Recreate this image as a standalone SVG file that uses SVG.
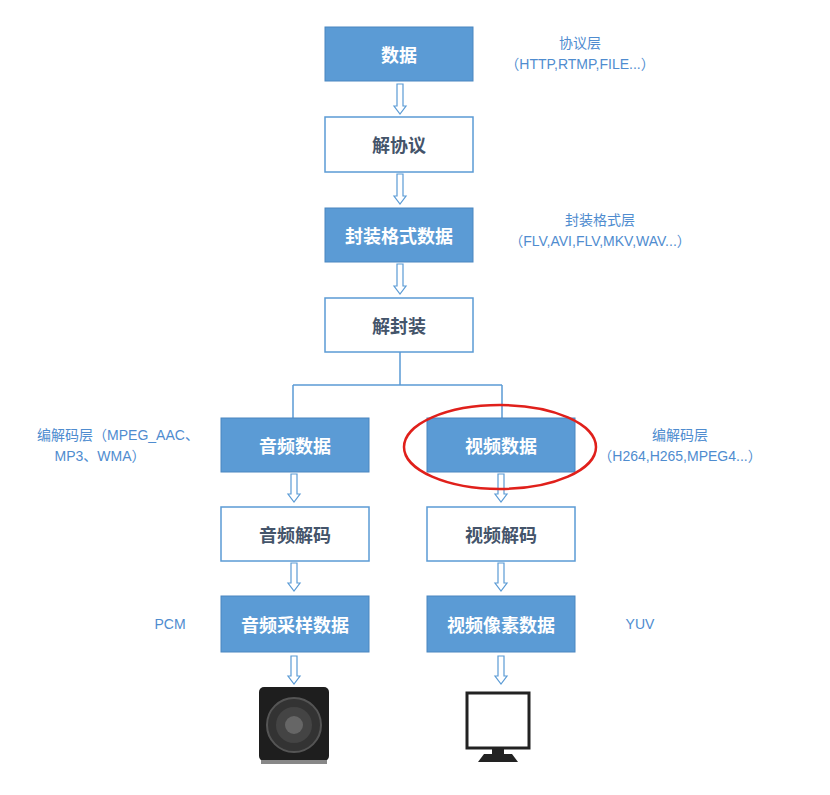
<svg xmlns="http://www.w3.org/2000/svg" width="830" height="795" viewBox="0 0 830 795">
<defs>
<style>
.f{fill:#5b9bd5;stroke:#4a86c0;stroke-width:1}
.w{fill:#fff;stroke:#5b9bd5;stroke-width:1.5}
.tf{font-family:"Noto Sans CJK SC",sans-serif;font-size:18px;font-weight:bold;fill:#fff;text-anchor:middle;dominant-baseline:central}
.tw{font-family:"Noto Sans CJK SC",sans-serif;font-size:18px;font-weight:bold;fill:#44546a;text-anchor:middle;dominant-baseline:central}
.n{font-family:"Liberation Sans","Noto Sans CJK SC",sans-serif;font-size:14px;fill:#4f8ccf;text-anchor:middle}
.a{fill:#fff;stroke:#5b9bd5;stroke-width:1.2}
.l{fill:none;stroke:#5b9bd5;stroke-width:1.5}
</style>
</defs>
<rect width="830" height="795" fill="#fff"/>
<g id="connectors">
<path class="a" d="M397 84h6v22h3l-6 8l-6-8h3z"/>
<path class="a" d="M397 174h6v22h3l-6 8l-6-8h3z"/>
<path class="a" d="M397 264h6v22h3l-6 8l-6-8h3z"/>
<path class="l" d="M400 352v33M293 385h209M293 385v33M502 385v33"/>
<path class="a" d="M291 474h6v20h3l-6 8l-6-8h3z"/>
<path class="a" d="M498 474h6v20h3l-6 8l-6-8h3z"/>
<path class="a" d="M291 563h6v20h3l-6 8l-6-8h3z"/>
<path class="a" d="M498 563h6v20h3l-6 8l-6-8h3z"/>
<path class="a" d="M291 656h6v20h3l-6 8l-6-8h3z"/>
<path class="a" d="M498 656h6v20h3l-6 8l-6-8h3z"/>
</g>
<g id="n1"><rect class="f" x="325" y="27" width="148" height="54"/><text class="tf" x="399" y="54">数据</text></g>
<g id="n2"><rect class="w" x="325" y="117" width="148" height="55"/><text class="tw" x="399" y="144">解协议</text></g>
<g id="n3"><rect class="f" x="325" y="208" width="148" height="54"/><text class="tf" x="399" y="235">封装格式数据</text></g>
<g id="n4"><rect class="w" x="325" y="298" width="148" height="54"/><text class="tw" x="399" y="325">解封装</text></g>
<g id="n5"><rect class="f" x="221" y="418" width="148" height="54"/><text class="tf" x="295" y="445">音频数据</text></g>
<g id="n6"><rect class="f" x="427" y="418" width="148" height="54"/><text class="tf" x="501" y="445">视频数据</text></g>
<g id="n7"><rect class="w" x="221" y="507" width="148" height="54"/><text class="tw" x="295" y="534">音频解码</text></g>
<g id="n8"><rect class="w" x="427" y="507" width="148" height="54"/><text class="tw" x="501" y="534">视频解码</text></g>
<g id="n9"><rect class="f" x="221" y="596" width="148" height="56"/><text class="tf" x="295" y="624">音频采样数据</text></g>
<g id="n10"><rect class="f" x="427" y="596" width="148" height="56"/><text class="tf" x="501" y="624">视频像素数据</text></g>
<g id="notes">
<text class="n" x="580" y="48">协议层</text>
<text class="n" x="580" y="69">（HTTP,RTMP,FILE...）</text>
<text class="n" x="600" y="225">封装格式层</text>
<text class="n" x="600" y="246">（FLV,AVI,FLV,MKV,WAV...）</text>
<text class="n" x="118" y="440">编解码层（MPEG_AAC、</text>
<text class="n" x="100" y="461">MP3、WMA）</text>
<text class="n" x="680" y="440">编解码层</text>
<text class="n" x="680" y="461">（H264,H265,MPEG4...）</text>
<text class="n" x="170" y="629">PCM</text>
<text class="n" x="640" y="629">YUV</text>
</g>
<ellipse id="highlight" cx="500" cy="447" rx="96" ry="42" fill="none" stroke="#e0201b" stroke-width="2.5"/>
<g id="speaker">
<rect x="259" y="687" width="70" height="74" rx="5" fill="#1e1e1e"/>
<rect x="261" y="760" width="66" height="4" fill="#888"/>
<circle cx="294" cy="725" r="27" fill="#333" stroke="#555" stroke-width="2"/>
<circle cx="294" cy="725" r="18" fill="#444"/>
<circle cx="294" cy="725" r="9" fill="#666"/>
</g>
<g id="monitor">
<rect x="467" y="693" width="62" height="55" fill="#fff" stroke="#222" stroke-width="3"/>
<rect x="492" y="748" width="12" height="6" fill="#222"/>
<path d="M478 762l6-8h28l6 8z" fill="#222"/>
</g>
</svg>
